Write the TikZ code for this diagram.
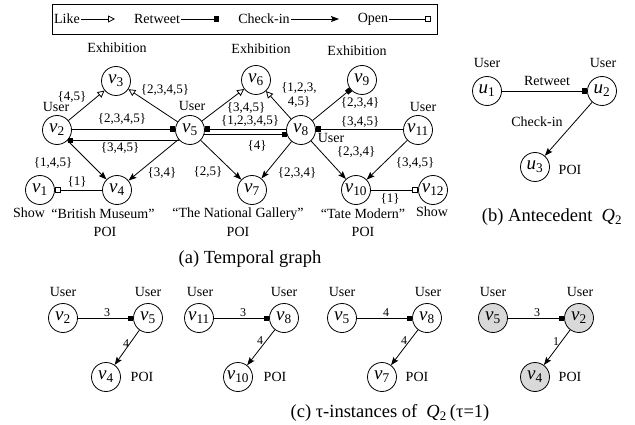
\documentclass[tikz,border=0pt]{standalone}
\usepackage{fontspec}
\setmainfont{Liberation Serif}
\usepackage{tikz}
\usetikzlibrary{arrows.meta,positioning}
\newcommand{\vfont}{\fontsize{19}{20}\selectfont}
\newcommand{\labfont}{\fontsize{13}{14}\selectfont}
\newcommand{\txtfont}{\fontsize{14}{15}\selectfont}
\newcommand{\numfont}{\fontsize{12}{13}\selectfont}
\newcommand{\capfont}{\fontsize{18.5}{20}\selectfont}
\newcommand{\nv}[1]{\textit{v}\textsubscript{#1}}
\newcommand{\nuu}[1]{\textit{u}\textsubscript{#1}}
\begin{document}
\begin{tikzpicture}[x=1pt,y=-1pt,
  vert/.style={circle,draw,line width=0.8pt,minimum size=29pt,inner sep=0pt,font=\vfont},
  hot/.style={vert,fill=black!15},
  lab/.style={font=\labfont,inner sep=1pt,align=center},
  txt/.style={font=\txtfont,inner sep=1pt},
  num/.style={font=\numfont,inner sep=1pt},
  captxt/.style={font=\capfont,inner sep=1pt},
  like/.style={-{Triangle[open,length=7pt,width=7pt]},line width=0.8pt},
  rt/.style={-{Square[length=5pt,width=5pt]},line width=0.8pt},
  chk/.style={-{Stealth[length=8pt,width=6pt,inset=1.5pt]},line width=0.8pt},
  opn/.style={-{Square[open,length=6pt,width=6pt]},line width=0.8pt}]
  \useasboundingbox (0,0) rectangle (635,425);
  % legend
  \node[draw,line width=0.8pt,minimum width=385pt,minimum height=30pt] (legend) at (244.5,19) {};
  \node[txt] (klike) at (67,19) {Like};
  \node[txt] (krt) at (157,19) {Retweet};
  \node[txt] (kchk) at (264,19) {Check-in};
  \node[txt] (kopn) at (373,19) {Open};
  \coordinate (klikee) at (115,19);
  \coordinate (krte) at (219,19);
  \coordinate (kchke) at (339,19);
  \coordinate (kopne) at (431,19);
  \draw[like] (klike.east) -- (klikee);
  \draw[rt] (krt.east) -- (krte);
  \draw[chk] (kchk.east) -- (kchke);
  \draw[opn] (kopn.east) -- (kopne);
  % (a) temporal graph
  \node[vert] (v1) at (40,190) {\nv{1}};
  \node[vert] (v2) at (57,130) {\nv{2}};
  \node[vert] (v3) at (116,81) {\nv{3}};
  \node[vert] (v4) at (117,190) {\nv{4}};
  \node[vert] (v5) at (190,130) {\nv{5}};
  \node[vert] (v6) at (256,80) {\nv{6}};
  \node[vert] (v7) at (252,190) {\nv{7}};
  \node[vert] (v8) at (301,130) {\nv{8}};
  \node[vert] (v9) at (362,80) {\nv{9}};
  \node[vert] (v10) at (356,190) {\nv{10}};
  \node[vert] (v11) at (418,130) {\nv{11}};
  \node[vert] (v12) at (433,190) {\nv{12}};
  \node[txt] (ex3) at (117,48) {Exhibition};
  \node[txt] (ex6) at (261,49) {Exhibition};
  \node[txt] (ex9) at (357,51) {Exhibition};
  \node[txt] (us2) at (56,107) {User};
  \node[txt] (us5) at (192,106) {User};
  \node[txt] (us8) at (331,138) {User};
  \node[txt] (us11) at (423,107) {User};
  \node[txt] (sh1) at (29,213) {Show};
  \node[txt] (sh12) at (432,212) {Show};
  \node[txt] (bm) at (103,214) {“British Museum”};
  \node[txt] (ng) at (238,214) {“The National Gallery”};
  \node[txt] (tm) at (363,214) {“Tate Modern”};
  \node[txt] (poi4) at (105,232) {POI};
  \node[txt] (poi7) at (238,232) {POI};
  \node[txt] (poi10) at (363,232) {POI};
  \node[lab] (l23) at (72,97) {\{4,5\}};
  \node[lab] (l53) at (165,90) {\{2,3,4,5\}};
  \node[lab] (l25) at (122,119) {\{2,3,4,5\}};
  \node[lab] (l52) at (120,148) {\{3,4,5\}};
  \node[lab] (l56) at (246,108) {\{3,4,5\}};
  \node[lab] (l85) at (250,121) {\{1,2,3,4,5\}};
  \node[lab] (l58) at (257,146) {\{4\}};
  \node[lab] (l86) at (299,95) {\{1,2,3,\\4,5\}};
  \node[lab] (l89) at (360,103) {\{2,3,4\}};
  \node[lab] (l118) at (360,122) {\{3,4,5\}};
  \node[lab] (l810) at (356,152) {\{2,3,4\}};
  \node[lab] (l1110) at (415,163) {\{3,4,5\}};
  \node[lab] (l24) at (53,163) {\{1,4,5\}};
  \node[lab] (l41) at (77,182) {\{1\}};
  \node[lab] (l54) at (162,173) {\{3,4\}};
  \node[lab] (l57) at (208,172) {\{2,5\}};
  \node[lab] (l87) at (297,173) {\{2,3,4\}};
  \node[lab] (l1012) at (390,199) {\{1\}};
  \draw[like] (v2) -- (v3);
  \draw[like] (v5) -- (v3);
  \draw[like] (v5) -- (v6);
  \draw[like] (v8) -- (v6);
  \draw[rt] (v2.4) -- (v5.176);
  \draw[rt] (v5.224) -- (v2.-44);
  \draw[rt] (v8.176) -- (v5.4);
  \draw[rt] (v5.-17) -- (v8.197);
  \draw[rt] (v8) -- (v9);
  \draw[rt] (v11.176) -- (v8.4);
  \draw[chk] (v2) -- (v4);
  \draw[chk] (v5) -- (v4);
  \draw[chk] (v5) -- (v7);
  \draw[chk] (v8) -- (v7);
  \draw[chk] (v8) -- (v10);
  \draw[chk] (v11) -- (v10);
  \draw[opn] (v4) -- (v1);
  \draw[opn] (v10) -- (v12);
  \node[captxt] (capa) at (250,259) {(a) Temporal graph};
  % (b) antecedent
  \node[vert] (u1) at (487,91) {\nuu{1}};
  \node[vert] (u2) at (602,91) {\nuu{2}};
  \node[vert] (u3) at (535,167) {\nuu{3}};
  \node[txt] (uu1) at (487,63) {User};
  \node[txt] (uu2) at (603,63) {User};
  \node[txt] (up3) at (570,170) {POI};
  \node[txt] (ur) at (547,81) {Retweet};
  \node[txt] (uc) at (537,122) {Check-in};
  \draw[rt] (u1) -- (u2);
  \draw[chk] (u2) -- (u3);
  \node[captxt] (capb) at (552,217) {(b) Antecedent\ \ \textit{Q}\textsubscript{2}};
  % (c) instances
  \node[vert] (a2) at (63,318) {\nv{2}};
  \node[vert] (a5) at (148,318) {\nv{5}};
  \node[vert] (a4) at (106,377) {\nv{4}};
  \node[txt] (au2) at (63,292) {User};
  \node[txt] (au5) at (148,292) {User};
  \node[txt] (ap4) at (142,377) {POI};
  \node[num] (at1) at (107,313) {3};
  \node[num] (at2) at (126,344) {4};
  \draw[rt] (a2) -- (a5);
  \draw[chk] (a5) -- (a4);
  \node[vert] (b11) at (199,318) {\nv{11}};
  \node[vert] (b8) at (284,318) {\nv{8}};
  \node[vert] (b10) at (238,377) {\nv{10}};
  \node[txt] (bu11) at (200,292) {User};
  \node[txt] (bu8) at (284,292) {User};
  \node[txt] (bp10) at (275,377) {POI};
  \node[num] (bt1) at (243,313) {3};
  \node[num] (bt2) at (260,341) {4};
  \draw[rt] (b11) -- (b8);
  \draw[chk] (b8) -- (b10);
  \node[vert] (c5) at (342,318) {\nv{5}};
  \node[vert] (c8) at (427,318) {\nv{8}};
  \node[vert] (c7) at (382,377) {\nv{7}};
  \node[txt] (cu5) at (342,292) {User};
  \node[txt] (cu8) at (428,292) {User};
  \node[txt] (cp7) at (417,377) {POI};
  \node[num] (ct1) at (386,313) {4};
  \node[num] (ct2) at (404,341) {4};
  \draw[rt] (c5) -- (c8);
  \draw[chk] (c8) -- (c7);
  \node[hot] (d5) at (493,318) {\nv{5}};
  \node[hot] (d2) at (579,318) {\nv{2}};
  \node[hot] (d4) at (535,377) {\nv{4}};
  \node[txt] (du5) at (493,292) {User};
  \node[txt] (du2) at (580,292) {User};
  \node[txt] (dp4) at (570,377) {POI};
  \node[num] (dt1) at (537,313) {3};
  \node[num] (dt2) at (556,342) {1};
  \draw[rt] (d5) -- (d2);
  \draw[chk] (d2) -- (d4);
  \node[captxt] (capc) at (390,413) {(c) τ-instances of\ \ \textit{Q}\textsubscript{2}\,(τ=1)};
\end{tikzpicture}
\end{document}
